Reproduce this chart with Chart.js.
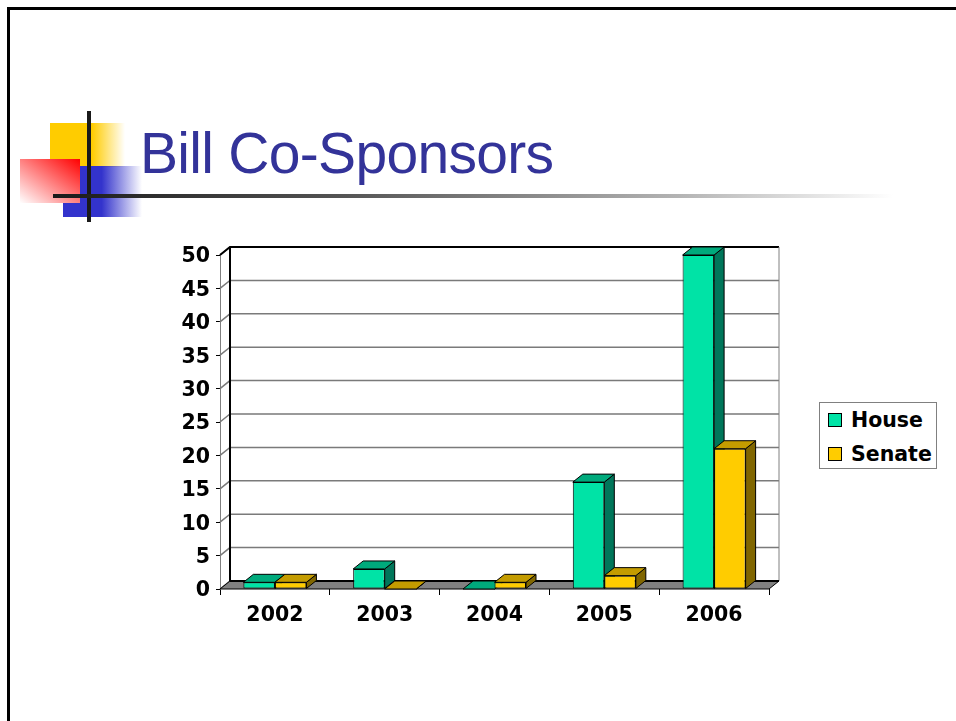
<!DOCTYPE html>
<html>
<head>
<meta charset="utf-8">
<script src="https://cdn.jsdelivr.net/npm/chart.js@4"></script>
<style>
  body { margin: 0; width: 956px; height: 721px; background: #fff; position: relative; overflow: hidden; }
  .abs { position: absolute; }
  #frame { left: 7px; top: 7px; width: 960px; height: 720px; border-top: 3px solid #000; border-left: 3px solid #000; }
  #title { left: 140px; top: 125px; font: 57px "Liberation Sans", Arial, sans-serif; line-height: 57px; letter-spacing: -0.7px; color: #333399; white-space: nowrap; }
  #legend { left: 819px; top: 402px; width: 116px; height: 65px; border: 1px solid #808080; }
  .item { position: absolute; left: 8px; height: 24px; line-height: 24px; font: bold 20.5px "DejaVu Sans", sans-serif; display: flex; align-items: center; white-space: nowrap; }
  .swatch { width: 12px; height: 12px; border: 1px solid #000; margin-right: 9px; }
</style>
</head>
<body>
<div id="frame" class="abs"></div>

<!-- slide logo -->
<div class="abs" style="left:50px;top:123px;width:75px;height:44px;background:linear-gradient(to right,#FFCC00 0%,#FFCC00 56%,rgba(255,204,0,0) 100%)"></div>
<div class="abs" style="left:63px;top:166px;width:79px;height:51px;background:linear-gradient(to right,#3333CC 0%,#3333CC 49%,rgba(51,51,204,0) 100%)"></div>
<div class="abs" style="left:20px;top:159px;width:60px;height:44px;background:linear-gradient(to bottom left,#FF0000 0%,#FFFFFF 100%)"></div>
<div class="abs" style="left:87px;top:111px;width:4px;height:111px;background:#1a1a1a"></div>
<div class="abs" style="left:53px;top:194px;width:840px;height:4px;background:linear-gradient(to right,#1a1a1a 0%,#555 35%,#b5b5b5 75%,rgba(255,255,255,0) 100%)"></div>
<div id="title" class="abs">Bill Co-Sponsors</div>

<canvas id="bills" width="660" height="400" class="abs" style="left:140px;top:230px"></canvas>
<div id="legend" class="abs"></div>

<script>
/* Values */
const years = ['2002', '2003', '2004', '2005', '2006'];
const house = [1, 3, 0, 16, 50];
const senate = [1, 0, 1, 2, 21];
const series_names = ['House', 'Senate'];
const y_max = 50;
const y_step = 5;

/* Face colours for the fake 3D bars */
const front_colors = ['#00E3A6', '#FFCC00'];
const top_colors = ['#00AA7C', '#C49C00'];
const side_colors = ['#00765A', '#806600'];

const depth_x = 10, depth_y = 8;
const tick_font = {family: '"DejaVu Sans", sans-serif', size: 20.5, weight: 'bold'};

function poly(ctx, pts, fill, stroke, lw) {
  ctx.beginPath();
  ctx.moveTo(pts[0][0], pts[0][1]);
  for (let i = 1; i < pts.length; i++) ctx.lineTo(pts[i][0], pts[i][1]);
  ctx.closePath();
  if (fill) { ctx.fillStyle = fill; ctx.fill(); }
  if (stroke) { ctx.strokeStyle = stroke; ctx.lineWidth = lw || 1; ctx.stroke(); }
}

/* Walls, floor and the side/top faces of each bar, drawn before Chart.js paints the fronts */
const box3d = {
  id: 'box3d',
  beforeDatasetsDraw(chart) {
    const ctx = chart.ctx, a = chart.chartArea, y = chart.scales.y;
    ctx.save();

    /* gridlines on the back wall, with the short diagonal on the side wall */
    y.ticks.forEach(t => {
      const py = y.getPixelForValue(t.value);
      ctx.beginPath();
      ctx.moveTo(a.left, py);
      ctx.lineTo(a.left + depth_x, py - depth_y);
      ctx.lineTo(a.right + depth_x, py - depth_y);
      ctx.strokeStyle = '#7a7a7a';
      ctx.lineWidth = 1.5;
      ctx.stroke();
    });

    /* wall edges */
    ctx.strokeStyle = '#000';
    ctx.lineWidth = 2;
    ctx.beginPath();
    ctx.moveTo(a.left, a.top);
    ctx.lineTo(a.left + depth_x, a.top - depth_y);
    ctx.lineTo(a.right + depth_x, a.top - depth_y);
    ctx.moveTo(a.left + depth_x, a.top - depth_y);
    ctx.lineTo(a.left + depth_x, a.bottom - depth_y);
    ctx.stroke();
    ctx.strokeStyle = '#808080';
    ctx.lineWidth = 1;
    ctx.beginPath();
    ctx.moveTo(a.right + depth_x, a.top - depth_y);
    ctx.lineTo(a.right + depth_x, a.bottom - depth_y);
    ctx.stroke();

    /* floor */
    poly(ctx, [[a.left, a.bottom], [a.right, a.bottom], [a.right + depth_x, a.bottom - depth_y], [a.left + depth_x, a.bottom - depth_y]], '#808080', '#000', 1);
    ctx.beginPath();
    ctx.moveTo(a.left + depth_x, a.bottom - depth_y);
    ctx.lineTo(a.right + depth_x, a.bottom - depth_y);
    ctx.strokeStyle = '#000';
    ctx.lineWidth = 2;
    ctx.stroke();

    /* bar sides and tops */
    chart.data.datasets.forEach((ds, i) => {
      chart.getDatasetMeta(i).data.forEach(bar => {
        const l = bar.x - bar.width / 2, r = bar.x + bar.width / 2;
        const t = bar.y, b = bar.base;
        poly(ctx, [[r, t], [r + depth_x, t - depth_y], [r + depth_x, b - depth_y], [r, b]], side_colors[i], '#000', 1);
        poly(ctx, [[l, t], [r, t], [r + depth_x, t - depth_y], [l + depth_x, t - depth_y]], top_colors[i], '#000', 1);
      });
    });
    ctx.restore();
  }
};

const ctx = document.getElementById('bills');

const chart = new Chart(ctx, {
  type: 'bar',
  data: {
    labels: years,
    datasets: [
      {label: series_names[0], data: house, backgroundColor: front_colors[0], borderColor: '#000', borderWidth: 1, borderSkipped: false},
      {label: series_names[1], data: senate, backgroundColor: front_colors[1], borderColor: '#000', borderWidth: 1, borderSkipped: false}
    ]
  },
  options: {
    responsive: false,
    animation: false,
    events: [],
    categoryPercentage: 0.574,
    barPercentage: 1.0,
    layout: {padding: {left: 20, top: 25, right: 31, bottom: 5}},
    plugins: {legend: {display: false}, tooltip: {enabled: false}},
    scales: {
      x: {
        afterFit(scale) { scale.height = 36; },
        grid: {drawOnChartArea: false, drawTicks: true, tickLength: 6, color: '#000'},
        border: {display: false},
        ticks: {color: '#000', font: tick_font, padding: 8}
      },
      y: {
        min: 0,
        max: y_max,
        afterFit(scale) { scale.width = 60; },
        grid: {drawOnChartArea: false, drawTicks: true, tickLength: 4, color: '#000'},
        border: {display: true, color: '#808080'},
        ticks: {stepSize: y_step, color: '#000', font: tick_font, padding: 6, labelOffset: 2}
      }
    }
  },
  plugins: [box3d]
});

/* Legend box to the right of the plot */
const legend = document.getElementById('legend');
chart.data.datasets.forEach((ds, i) => {
  const row = document.createElement('div');
  row.className = 'item';
  row.style.top = (5 + i * 34) + 'px';
  row.innerHTML = '<span class="swatch" style="background:' + ds.backgroundColor + '"></span>' + ds.label;
  legend.appendChild(row);
});
</script>
</body>
</html>
